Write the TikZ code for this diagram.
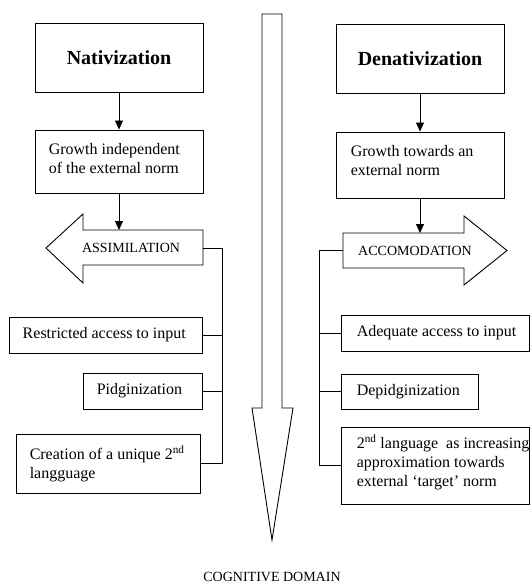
\documentclass[tikz,border=0pt]{standalone}
\usepackage{fontspec}
\setmainfont{Liberation Serif}
\usetikzlibrary{arrows.meta}
\begin{document}
\begin{tikzpicture}[x=1pt,y=-1pt,
  box/.style={draw, line width=0.9pt, rectangle, inner sep=0pt},
  txt/.style={inner sep=0pt, align=left, font=\fontsize{16}{19}\selectfont},
  ttl/.style={font=\fontsize{20}{24}\selectfont\bfseries},
  capt/.style={inner sep=0pt, font=\fontsize{14}{16}\selectfont},
  arr/.style={line width=0.8pt, -{Triangle[length=9pt,width=8pt]}},
  conn/.style={line width=0.8pt},
  blk/.style={draw, line width=0.9pt, fill=white, line join=miter}]
\useasboundingbox (0,0) rectangle (531,584);

% central downward arrow
\draw[blk] (262,14) -- (282,14) -- (282,408) -- (293,408) -- (272,540) -- (252,408) -- (262,408) -- cycle;
\node[capt] (cog) at (272,577) {COGNITIVE DOMAIN};

% ---------- left column ----------
\node[box, ttl, minimum width=168pt, minimum height=69pt] (nat) at (119,57.5) {Nativization};
\node[box, minimum width=168pt, minimum height=63pt] (grow1) at (119,161.5) {};
\node[txt, anchor=west] (grow1t) at ([xshift=14pt,yshift=3pt]grow1.west) {Growth independent\\of the external norm};

\draw[blk] (203,230) -- (83,230) -- (83,214) -- (46,248) -- (83,283) -- (83,265) -- (203,265) -- cycle;
\node[capt] (assim) at (131,248) {ASSIMILATION};
\coordinate (assimN) at (119,230);
\coordinate (assimE) at (203,248);

\draw[arr] (nat) -- (grow1);
\draw[arr] (grow1.south) -- (assimN);

\node[box, minimum width=193pt, minimum height=36pt] (restr) at (105.5,335) {};
\node[txt, anchor=west] (restrt) at ([xshift=14pt]restr.west) {Restricted access to input};
\node[box, minimum width=119pt, minimum height=36pt] (pidg) at (142.5,391) {};
\node[txt, anchor=west] (pidgt) at ([xshift=14pt]pidg.west) {Pidginization};
\node[box, minimum width=184pt, minimum height=59pt] (create) at (108,463.5) {};
\node[txt, anchor=west] (createt) at ([xshift=14pt]create.west) {Creation of a unique 2\textsuperscript{nd}\\langguage};

\coordinate (lsp) at (222,248);
\draw[conn] (assimE) -- (lsp) |- (create.east);
\draw[conn] (restr.east) -- (restr.east -| lsp);
\draw[conn] (pidg.east) -- (pidg.east -| lsp);

% ---------- right column ----------
\node[box, ttl, minimum width=168pt, minimum height=69pt] (den) at (420,58.5) {Denativization};
\node[box, minimum width=168pt, minimum height=66pt] (grow2) at (420,165) {};
\node[txt, anchor=west] (grow2t) at ([xshift=15pt,yshift=4pt]grow2.west) {Growth towards an\\external norm};

\draw[blk] (343,233) -- (464,233) -- (464,216) -- (507,250.5) -- (464,285) -- (464,268) -- (343,268) -- cycle;
\node[capt] (accom) at (415,250.5) {ACCOMODATION};
\coordinate (accomN) at (420,233);
\coordinate (accomW) at (343,250.5);

\draw[arr] (den) -- (grow2);
\draw[arr] (grow2.south) -- (accomN);

\node[box, minimum width=188pt, minimum height=36pt] (adeq) at (435,333) {};
\node[txt, anchor=west] (adeqt) at ([xshift=16pt]adeq.west) {Adequate access to input};
\node[box, minimum width=137pt, minimum height=35pt] (depid) at (409.5,391.5) {};
\node[txt, anchor=west] (depidt) at ([xshift=16pt]depid.west) {Depidginization};
\node[box, minimum width=188pt, minimum height=77pt] (lang) at (435,465.5) {};
\node[txt, anchor=west] (langt) at ([xshift=16pt,yshift=3pt]lang.west) {2\textsuperscript{nd} language\ \ as increasing\\approximation towards\\external ‘target’ norm};

\coordinate (rsp) at (319,250.5);
\draw[conn] (accomW) -- (rsp) |- (lang.west);
\draw[conn] (adeq.west) -- (adeq.west -| rsp);
\draw[conn] (depid.west) -- (depid.west -| rsp);
\end{tikzpicture}
\end{document}
